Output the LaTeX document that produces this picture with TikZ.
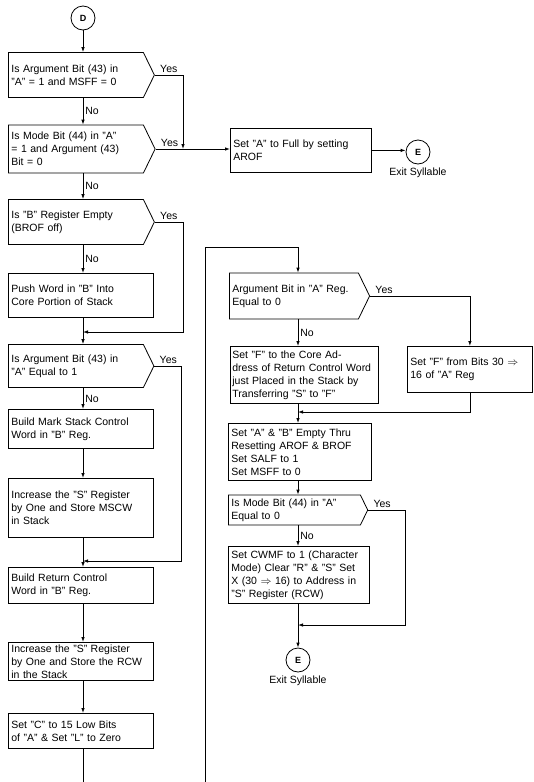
\documentclass[tikz,border=0pt]{standalone}
\usepackage{fontspec}
\setmainfont{Liberation Sans}
\usetikzlibrary{shapes.symbols,arrows.meta,positioning}
\tikzset{
  flow/.style={-{Latex[length=5pt,width=3.5pt]}},
  procbox/.style={draw, rectangle, anchor=north west, align=left, inner xsep=3pt, inner ysep=2pt},
  testbox/.style={draw, signal, signal to=east, signal pointer angle=128, anchor=west, align=left, inner xsep=3pt, inner ysep=2pt},
  connector/.style={draw, circle, minimum size=24pt, inner sep=0pt, font=\bfseries\small},
  tag/.style={inner sep=2pt},
}
\begin{document}
\begin{tikzpicture}[x=1pt, y=-1pt, line width=0.8pt, font=\fontsize{10.5pt}{13pt}\selectfont]
\useasboundingbox (0,0) rectangle (533,782);

% left column
\node[connector] (d) at (83,18) {D};
\node[testbox, text width=129pt, minimum height=45pt] (argbit) at (8,75) {Is Argument Bit (43) in\\"A" = 1 and MSFF = 0};
\node[testbox, text width=129pt, minimum height=48pt] (modebit) at (8,149) {Is Mode Bit (44) in "A"\\= 1 and Argument (43)\\Bit = 0};
\node[testbox, text width=129pt, minimum height=45pt] (bempty) at (8,222) {Is "B" Register Empty\\(BROF off)};
\node[procbox, text width=139pt, minimum height=44pt] (push) at (8,273) {Push Word in "B" Into\\Core Portion of Stack};
\node[testbox, text width=129pt, minimum height=43pt] (argone) at (8,366) {Is Argument Bit (43) in\\"A" Equal to 1};
\node[procbox, text width=139pt, minimum height=39pt] (mark) at (8,409) {Build Mark Stack Control\\Word in "B" Reg.};
\node[procbox, text width=139pt, minimum height=59pt] (incmscw) at (8,478) {Increase the "S" Register\\by One and Store MSCW\\in Stack};
\node[procbox, text width=139pt, minimum height=36pt] (rcw) at (8,567) {Build Return Control\\Word in "B" Reg.};
\node[procbox, text width=139pt, minimum height=38pt] (incrcw) at (8,642) {Increase the "S" Register\\by One and Store the RCW\\in the Stack};
\node[procbox, text width=139pt, minimum height=35pt] (setc) at (8,713) {Set "C" to 15 Low Bits\\of "A" \& Set "L" to Zero};
\coordinate (leftend) at (83,782);

% exit to the right
\node[procbox, text width=135pt, minimum height=44pt] (arof) at (230,128) {Set "A" to Full by setting\\AROF};
\node[connector] (exita) at (418,152) {E};
\node[tag, below=1pt of exita] (exitalabel) {Exit Syllable};

% right column
\node[testbox, text width=123pt, minimum height=46pt] (argzero) at (229,296) {Argument Bit in "A" Reg.\\Equal to 0};
\node[procbox, inner xsep=2pt, text width=144pt, minimum height=57pt] (coreaddr) at (230,346) {Set "F" to the Core Ad-\\dress of Return Control Word\\just Placed in the Stack by\\Transferring "S" to "F"};
\node[procbox, text width=119pt, minimum height=46pt] (fbits) at (407,346) {Set "F" from Bits 30 $\Rightarrow$\\16 of "A" Reg};
\node[procbox, text width=137pt, minimum height=57pt] (clear) at (228,423) {Set "A" \& "B" Empty Thru\\Resetting AROF \& BROF\\Set SALF to 1\\Set MSFF to 0};
\node[testbox, text width=126pt, minimum height=30pt] (modezero) at (228,510) {Is Mode Bit (44) in "A"\\Equal to 0};
\node[procbox, text width=135pt, minimum height=57pt] (cwmf) at (228,546) {Set CWMF to 1 (Character\\Mode) Clear "R" \& "S" Set\\X (30 $\Rightarrow$ 16) to Address in\\"S" Register (RCW)};
\node[connector] (exitb) at (298,660) {E};
\node[tag, below=1pt of exitb] (exitblabel) {Exit Syllable};
\coordinate (loopstart) at (205,782);
\coordinate (looptop) at (298,247);

% junctions
\coordinate (join1) at (183,149);
\coordinate (join2) at (83,332);
\coordinate (join3) at (83,561);
\coordinate (join4) at (298,412);
\coordinate (join5) at (298,625);

% left column flow
\draw[flow] (d.south) -- (d |- argbit.north);
\draw[flow] (d |- argbit.south) -- (d |- modebit.north) node[tag, midway, right] {No};
\draw[flow] (argbit.east) node[tag, anchor=south west, xshift=3pt] {Yes} -| (join1);
\draw[flow] (modebit.east) node[tag, anchor=south west, xshift=3pt] {Yes} -- (modebit.east -| arof.west);
\draw[flow] (arof.east) -- (arof.east -| exita.west);
\draw[flow] (d |- modebit.south) -- (d |- bempty.north) node[tag, midway, right] {No};
\draw[flow] (d |- bempty.south) -- (d |- push.north) node[tag, midway, right] {No};
\draw[flow] (bempty.east) node[tag, anchor=south west, xshift=3pt] {Yes} -- ++(29,0) |- (join2);
\draw[flow] (d |- push.south) -- (d |- argone.north);
\draw[flow] (argone.east) node[tag, anchor=south west, xshift=3pt] {Yes} -- ++(27,0) |- (join3);
\draw[flow] (d |- argone.south) -- (d |- mark.north) node[tag, midway, right] {No};
\draw[flow] (d |- mark.south) -- (d |- incmscw.north);
\draw[flow] (d |- incmscw.south) -- (d |- rcw.north);
\draw[flow] (d |- rcw.south) -- (d |- incrcw.north);
\draw[flow] (d |- incrcw.south) -- (d |- setc.north);
\draw (d |- setc.south) -- (leftend);

% right column flow
\draw[flow] (loopstart) |- (looptop) -- (exitb |- argzero.north);
\draw[flow] (argzero.east) node[tag, anchor=south west, xshift=3pt] {Yes} -| (fbits.north);
\draw[flow] (exitb |- argzero.south) -- (exitb |- coreaddr.north) node[tag, midway, right] {No};
\draw[flow] (fbits.south) |- (join4);
\draw[flow] (exitb |- coreaddr.south) -- (exitb |- clear.north);
\draw[flow] (exitb |- clear.south) -- (exitb |- modezero.north);
\draw[flow] (modezero.east) node[tag, anchor=south west, xshift=3pt] {Yes} -- ++(37,0) |- (join5);
\draw[flow] (exitb |- modezero.south) -- (exitb |- cwmf.north) node[tag, midway, right] {No};
\draw[flow] (exitb |- cwmf.south) -- (exitb.north);
\end{tikzpicture}
\end{document}
